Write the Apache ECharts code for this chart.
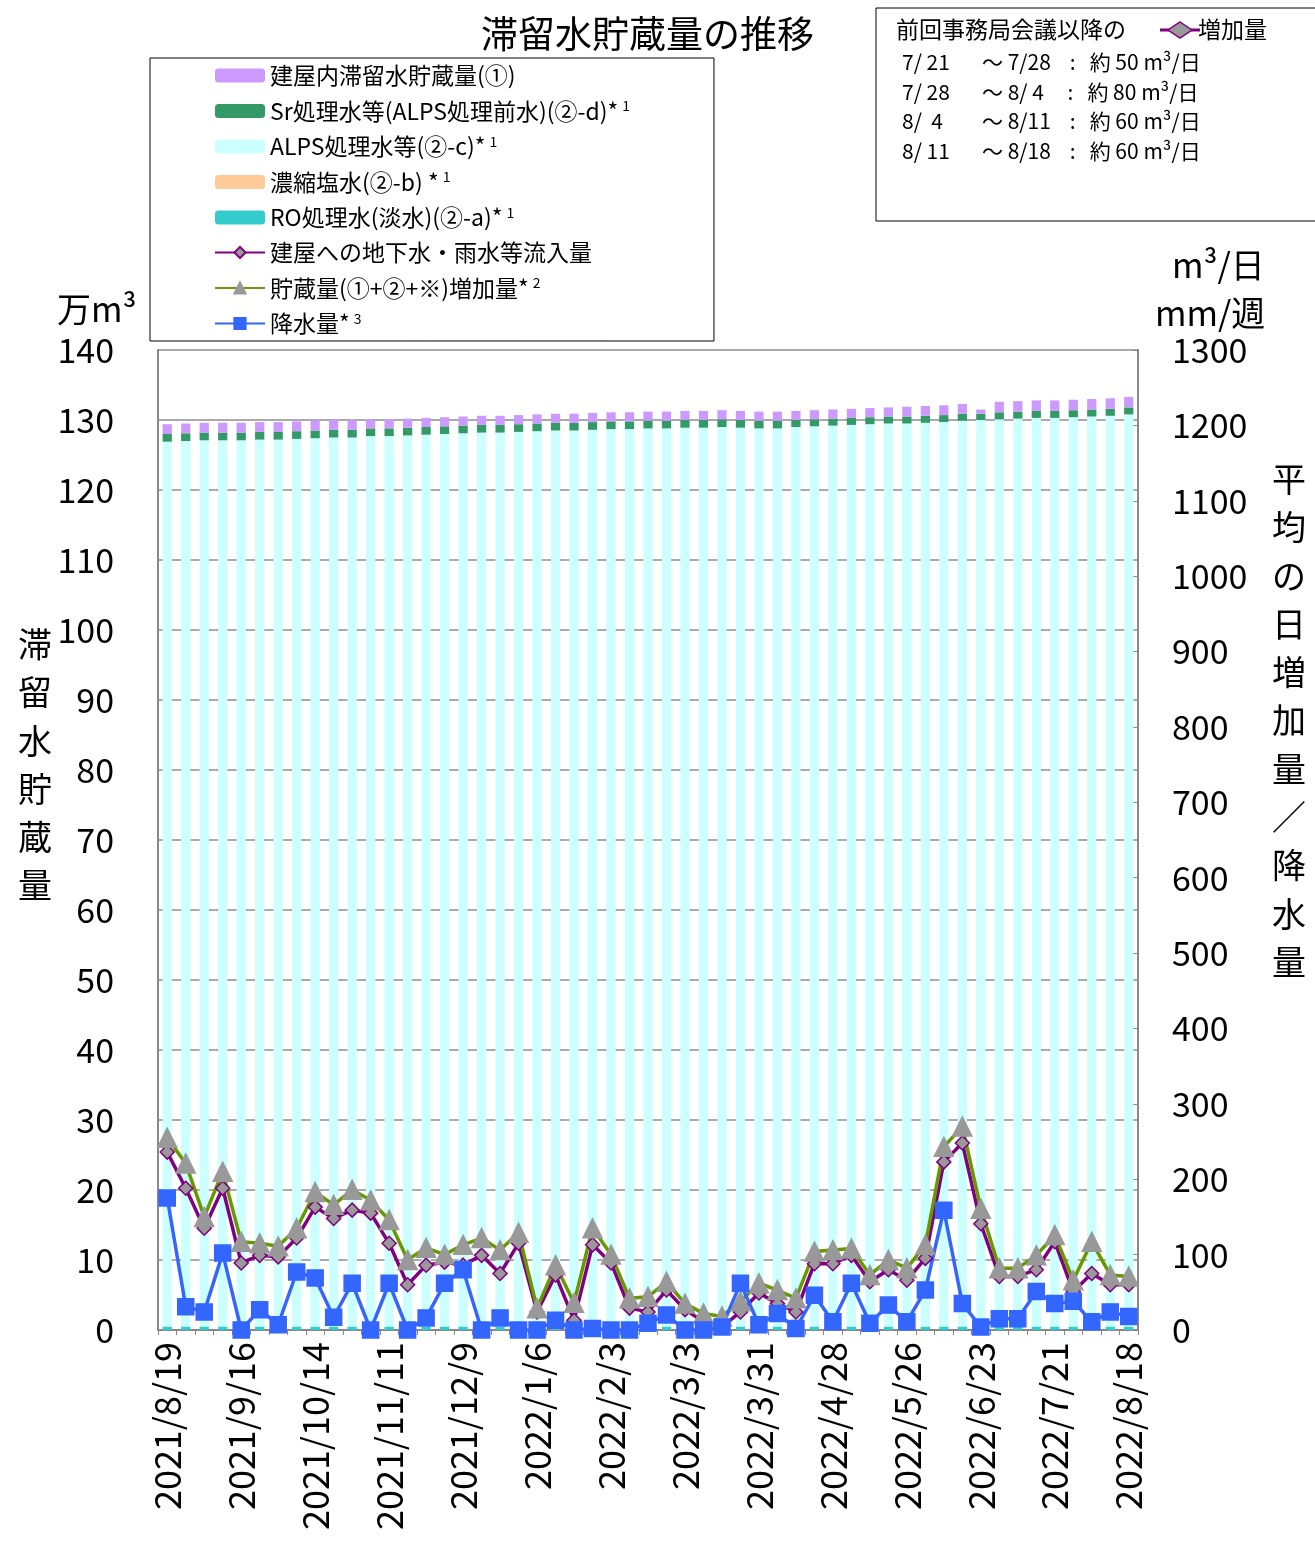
<!DOCTYPE html>
<html>
<head>
<meta charset="utf-8">
<script src="https://cdn.jsdelivr.net/npm/echarts@6/dist/echarts.min.js"></script>
<style>
html, body { margin: 0; padding: 0; background: #fff; }
#chart { width: 1315px; height: 1551px; }
</style>
</head>
<body>
<div id="chart"></div>
<script>
var dates = [
    '2021/8/19', '2021/8/26', '2021/9/2', '2021/9/9', '2021/9/16', '2021/9/23', '2021/9/30',
    '2021/10/7', '2021/10/14', '2021/10/21', '2021/10/28', '2021/11/4', '2021/11/11', '2021/11/18',
    '2021/11/25', '2021/12/2', '2021/12/9', '2021/12/16', '2021/12/23', '2021/12/30', '2022/1/6',
    '2022/1/13', '2022/1/20', '2022/1/27', '2022/2/3', '2022/2/10', '2022/2/17', '2022/2/24',
    '2022/3/3', '2022/3/10', '2022/3/17', '2022/3/24', '2022/3/31', '2022/4/7', '2022/4/14',
    '2022/4/21', '2022/4/28', '2022/5/5', '2022/5/12', '2022/5/19', '2022/5/26', '2022/6/2',
    '2022/6/9', '2022/6/16', '2022/6/23', '2022/6/30', '2022/7/7', '2022/7/14', '2022/7/21',
    '2022/7/28', '2022/8/4', '2022/8/11', '2022/8/18'
];

// 万m3
var roWater = [
    0.5, 0.5, 0.5, 0.5, 0.5, 0.5, 0.5, 0.5, 0.5, 0.5, 0.5, 0.5, 0.5, 0.5, 0.5, 0.5, 0.5, 0.5,
    0.5, 0.5, 0.5, 0.5, 0.5, 0.5, 0.5, 0.5, 0.5, 0.5, 0.5, 0.5, 0.5, 0.5, 0.5, 0.5, 0.5, 0.5,
    0.5, 0.5, 0.5, 0.5, 0.5, 0.5, 0.5, 0.5, 0.5, 0.5, 0.5, 0.5, 0.5, 0.5, 0.5, 0.5, 0.5
];
var concWater = [
    0, 0, 0, 0, 0, 0, 0, 0, 0, 0, 0, 0, 0, 0, 0, 0, 0, 0, 0, 0, 0, 0, 0, 0, 0, 0, 0,
    0, 0, 0, 0, 0, 0, 0, 0, 0, 0, 0, 0, 0, 0, 0, 0, 0, 0, 0, 0, 0, 0, 0, 0, 0, 0
];
var alpsWater = [
    126.4, 126.5, 126.6, 126.6, 126.6, 126.7, 126.7, 126.8, 126.9, 127.0, 127.0, 127.2, 127.2,
    127.3, 127.4, 127.5, 127.6, 127.7, 127.7, 127.8, 127.9, 128.0, 128.0, 128.1, 128.2, 128.2,
    128.3, 128.3, 128.4, 128.4, 128.5, 128.4, 128.3, 128.3, 128.5, 128.6, 128.7, 128.8, 128.9,
    129.0, 129.0, 129.1, 129.2, 129.4, 129.5, 129.6, 129.7, 129.8, 129.8, 129.9, 130.0, 130.1, 130.3
];
var srWater = [
    1.1, 1.1, 1.1, 1.1, 1.1, 1.1, 1.1, 1.1, 1.1, 1.1, 1.1, 1.1, 1.1, 1.1, 1.1, 1.1, 1.1, 1.1,
    1.1, 1.1, 1.1, 1.1, 1.1, 1.1, 1.1, 1.1, 1.1, 1.1, 1.1, 1.1, 1.1, 1.1, 1.1, 1.1, 1.0, 1.0,
    1.0, 1.0, 1.0, 1.0, 1.0, 1.0, 1.0, 1.0, 0.9, 1.0, 1.0, 1.0, 1.0, 1.0, 1.0, 1.0, 1.0
];
var bldWater = [
    1.4, 1.4, 1.4, 1.4, 1.4, 1.4, 1.4, 1.4, 1.4, 1.4, 1.4, 1.3, 1.3, 1.3, 1.3, 1.3, 1.3, 1.3,
    1.3, 1.3, 1.3, 1.3, 1.3, 1.3, 1.3, 1.3, 1.3, 1.3, 1.3, 1.3, 1.3, 1.3, 1.3, 1.3, 1.3, 1.3,
    1.3, 1.3, 1.3, 1.3, 1.4, 1.4, 1.4, 1.4, 0.6, 1.5, 1.5, 1.5, 1.5, 1.5, 1.5, 1.5, 1.5
];

// m3/日, mm/週
var inflow = [
    236, 188, 135, 188, 89, 99, 97, 122, 163, 148, 159, 155, 115, 60, 86, 90, 86, 99, 75, 115,
    24, 73, 13, 113, 89, 29, 24, 53, 27, 11, 4, 24, 49, 35, 24, 88, 88, 99, 64, 80, 66, 95,
    223, 248, 141, 71, 71, 80, 117, 51, 75, 60, 60
];
var increase = [
    255, 221, 150, 210, 117, 115, 111, 135, 183, 166, 186, 172, 146, 93, 109, 100, 113, 122, 106, 129,
    29, 86, 36, 135, 100, 42, 44, 64, 35, 22, 18, 38, 62, 53, 42, 104, 106, 108, 73, 93, 82, 113,
    243, 270, 161, 82, 82, 99, 126, 66, 117, 73, 71
];
var rain = [
    175, 31, 24, 102, 0, 27, 7, 77, 69, 17, 62, 0, 62, 0, 16, 62, 80, 0, 16, 0,
    0, 13, 0, 2, 0, 0, 9, 20, 0, 0, 4, 62, 7, 22, 2, 46, 11, 62, 9, 33, 11, 53,
    159, 35, 4, 15, 15, 51, 35, 38, 11, 24, 18
];

var FONT = 'Noto Sans CJK JP';

function barSeries(name, data, color) {
    return {
        name: name, type: 'bar', stack: 'st', data: data, barWidth: '50%',
        itemStyle: { color: color }, emphasis: { disabled: true }
    };
}

function lineSeries(name, data, color, symbol, symbolColor, symbolBorder, size) {
    return {
        name: name, type: 'line', yAxisIndex: 1, data: data,
        symbol: symbol, symbolSize: size, showAllSymbol: true,
        lineStyle: { color: color, width: 3.5 },
        itemStyle: { color: symbolColor, borderColor: symbolBorder, borderWidth: 1.5 },
        z: 5
    };
}

function vtext(str, x, y, size) {
    return {
        type: 'text', left: x, top: y,
        style: { text: str.split('').join('\n'), font: size + 'px ' + FONT, fill: '#000', lineHeight: size * 1.42, align: 'center' }
    };
}

var legendNames = [
    { name: '建屋内滞留水貯蔵量(①)', sup: '' },
    { name: 'Sr処理水等(ALPS処理前水)(②-d)*', sup: '1' },
    { name: 'ALPS処理水等(②-c)*', sup: '1' },
    { name: '濃縮塩水(②-b) *', sup: '1' },
    { name: 'RO処理水(淡水)(②-a)*', sup: '1' },
    { name: '建屋への地下水・雨水等流入量', sup: '' },
    { name: '貯蔵量(①+②+※)増加量*', sup: '2' },
    { name: '降水量*', sup: '3' }
];

var myChart = echarts.init(document.getElementById('chart'));

var option = {
    backgroundColor: '#fff',
    animation: false,
    title: {
        text: '滞留水貯蔵量の推移', left: 476, top: 10,
        textStyle: { fontFamily: FONT, fontSize: 37, fontWeight: 'normal', color: '#000' }
    },
    legend: {
        orient: 'vertical', left: 150, top: 58,
        padding: [6, 84, 6, 64], itemGap: 12, itemWidth: 50, itemHeight: 14,
        backgroundColor: '#fff', borderColor: '#000', borderWidth: 1,
        data: legendNames.map(function(l) { return l.name; }),
        formatter: function(n) {
            for (var i = 0; i < legendNames.length; i++) {
                if (legendNames[i].name == n) {
                    return '{t|' + n + '}' + (legendNames[i].sup ? '{s|' + legendNames[i].sup + '}' : '');
                }
            }
            return n;
        },
        textStyle: {
            rich: {
                t: { fontFamily: FONT, fontSize: 23, color: '#000', height: 23 },
                s: { fontFamily: FONT, fontSize: 14, color: '#000', verticalAlign: 'top', padding: [0, 0, 10, 4] }
            }
        }
    },
    grid: { left: 158, right: 177, top: 350, bottom: 221 },
    xAxis: {
        type: 'category', data: dates,
        axisLine: { lineStyle: { color: '#888', width: 2 } },
        axisTick: { show: true, interval: 0, lineStyle: { color: '#888' } },
        axisLabel: { interval: 3, rotate: 90, fontFamily: FONT, fontSize: 36, color: '#000', margin: 12 }
    },
    yAxis: [
        {
            type: 'value', min: 0, max: 140, interval: 10,
            axisLine: { show: true, lineStyle: { color: '#888', width: 2 } },
            axisTick: { show: false },
            axisLabel: { fontFamily: FONT, fontSize: 34, color: '#000', margin: 44 },
            splitLine: { lineStyle: { color: '#aaa', width: 2 } }
        },
        {
            type: 'value', min: 0, max: 1300, interval: 100,
            axisLine: { show: true, lineStyle: { color: '#888', width: 2 } },
            axisTick: { show: true, inside: true, lineStyle: { color: '#888' } },
            axisLabel: { fontFamily: FONT, fontSize: 34, color: '#000', margin: 34, formatter: function(v) { return String(v); } },
            splitLine: { show: false }
        }
    ],
    graphic: [
        { type: 'text', left: 57, top: 292, z: 100, style: { text: '万m³', font: '34px ' + FONT, fill: '#000' } },
        { type: 'text', left: 1172, top: 248, style: { text: 'm³/日', font: '34px ' + FONT, fill: '#000' } },
        { type: 'text', left: 1155, top: 296, style: { text: 'mm/週', font: '34px ' + FONT, fill: '#000' } },
        vtext('滞留水貯蔵量', 18, 620, 34),
        vtext('平均の日増加量／降水量', 1272, 455, 34),
        {
            type: 'rect', shape: { x: 876, y: 8, width: 445, height: 213 },
            style: { fill: '#fff', stroke: '#000', lineWidth: 1 }
        },
        { type: 'text', left: 896, top: 18, style: { text: '前回事務局会議以降の', font: '23px ' + FONT, fill: '#000' } },
        { type: 'line', shape: { x1: 1160, y1: 30, x2: 1200, y2: 30 }, style: { stroke: '#800080', lineWidth: 3 } },
        {
            type: 'polygon', shape: { points: [[1180, 22], [1192, 30], [1180, 38], [1168, 30]] },
            style: { fill: '#999', stroke: '#800080', lineWidth: 1.5 }
        },
        { type: 'text', left: 1198, top: 18, style: { text: '増加量', font: '23px ' + FONT, fill: '#000' } },
        { type: 'text', left: 902, top: 52, style: { text: '7/ 21', font: '21px ' + FONT, fill: '#000' } },
        { type: 'text', left: 902, top: 82, style: { text: '7/ 28', font: '21px ' + FONT, fill: '#000' } },
        { type: 'text', left: 902, top: 111, style: { text: '8/  4', font: '21px ' + FONT, fill: '#000' } },
        { type: 'text', left: 902, top: 141, style: { text: '8/ 11', font: '21px ' + FONT, fill: '#000' } },
        { type: 'text', left: 982, top: 52, style: { text: '～ 7/28    :   約 50 m³/日', font: '21px ' + FONT, fill: '#000' } },
        { type: 'text', left: 982, top: 82, style: { text: '～ 8/ 4     :   約 80 m³/日', font: '21px ' + FONT, fill: '#000' } },
        { type: 'text', left: 982, top: 111, style: { text: '～ 8/11    :   約 60 m³/日', font: '21px ' + FONT, fill: '#000' } },
        { type: 'text', left: 982, top: 141, style: { text: '～ 8/18    :   約 60 m³/日', font: '21px ' + FONT, fill: '#000' } }
    ],
    series: [
        barSeries('RO処理水(淡水)(②-a)*', roWater, '#33cccc'),
        barSeries('濃縮塩水(②-b) *', concWater, '#ffcc99'),
        barSeries('ALPS処理水等(②-c)*', alpsWater, '#ccffff'),
        barSeries('Sr処理水等(ALPS処理前水)(②-d)*', srWater, '#339966'),
        barSeries('建屋内滞留水貯蔵量(①)', bldWater, '#cc99ff'),
        lineSeries('建屋への地下水・雨水等流入量', inflow, '#800080', 'diamond', '#999', '#800080', 14),
        lineSeries('貯蔵量(①+②+※)増加量*', increase, '#669900', 'triangle', '#999', '#999', 19),
        lineSeries('降水量*', rain, '#3366ff', 'rect', '#3366ff', '#3366ff', 16)
    ]
};

myChart.setOption(option);
</script>
</body>
</html>
